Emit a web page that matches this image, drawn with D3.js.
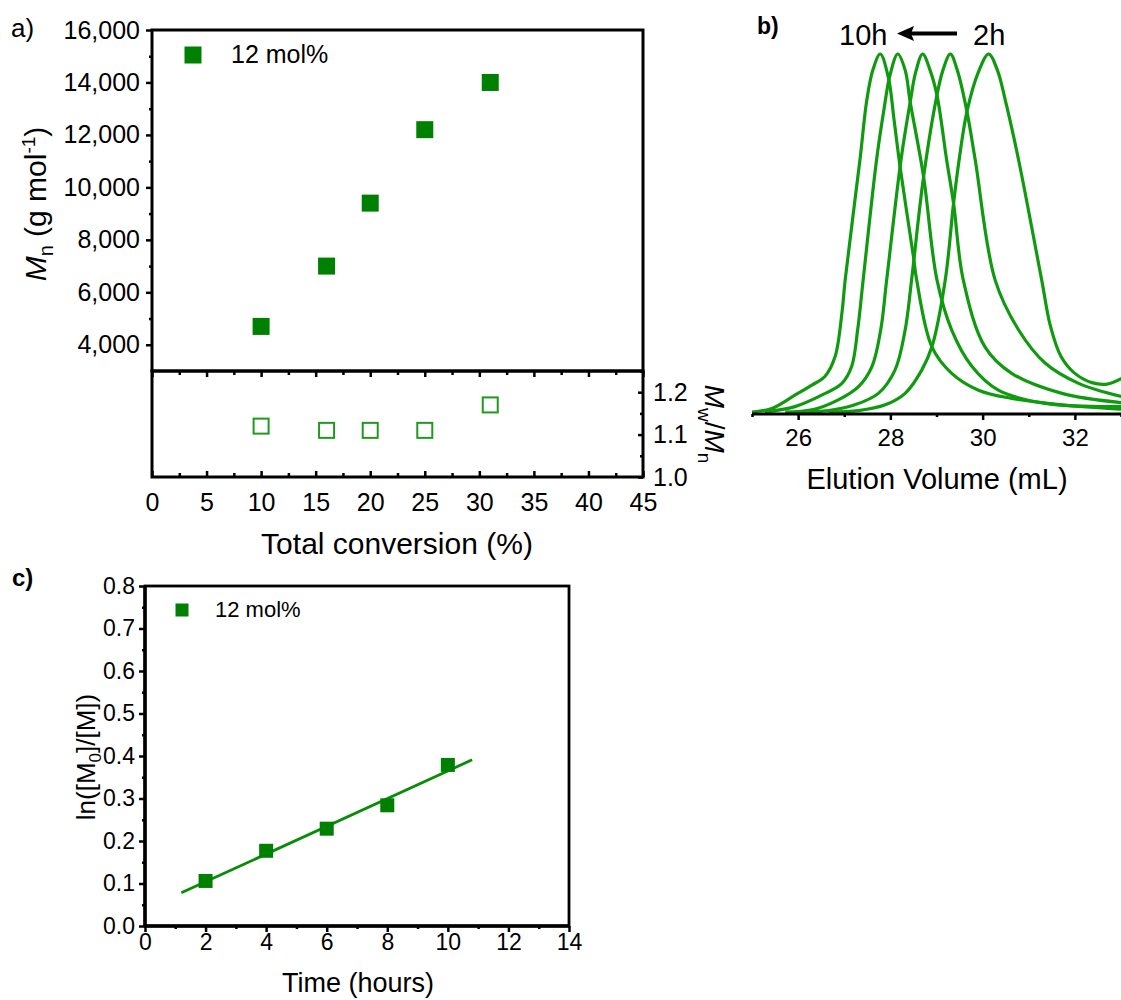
<!DOCTYPE html>
<html><head><meta charset="utf-8">
<script src="https://cdn.jsdelivr.net/npm/d3@7"></script>
<style>
body{margin:0;background:#fff}
svg{display:block}
text{font-family:"Liberation Sans",Arial,sans-serif;fill:#000}
</style>
</head><body>
<svg id="chart" width="1121" height="1000"></svg>
<script>
// ---------- Panel a data ----------
const conversion = [10, 16, 20, 25, 31];
const mnValues = [4700, 7000, 9400, 12200, 14000];
const pdiValues = [1.12, 1.11, 1.11, 1.11, 1.17];
const mnTicks = [4000, 6000, 8000, 10000, 12000, 14000, 16000];
const mnMinor = [5000, 7000, 9000, 11000, 13000, 15000];
const convTicks = [0, 5, 10, 15, 20, 25, 30, 35, 40, 45];
const convMinor = [2.5, 7.5, 12.5, 17.5, 22.5, 27.5, 32.5, 37.5, 42.5];
const pdiTicks = [1.0, 1.1, 1.2];
const pdiMinor = [1.05, 1.15, 1.25];
const legendA = "12 mol%";

// ---------- Panel b data (elution volume mL, normalised intensity) ----------
const gpc10h = [[25.0,0],[25.43,0.01],[25.93,0.047],[26.30,0.075],[26.58,0.099],[26.80,0.154],[26.95,0.277],[27.02,0.369],[27.34,0.704],[27.49,0.872],[27.62,0.955],[27.78,1.0],[27.96,0.932],[28.08,0.816],[28.21,0.685],[28.50,0.434],[28.57,0.369],[28.90,0.182],[29.33,0.108],[29.91,0.061],[30.63,0.038],[31.72,0.02],[33.02,0.008]];
const gpc8h = [[25.28,0],[25.93,0.015],[26.51,0.047],[26.95,0.08],[27.16,0.127],[27.29,0.229],[27.41,0.369],[27.70,0.704],[27.86,0.844],[27.99,0.94],[28.16,1.0],[28.32,0.955],[28.43,0.866],[28.72,0.657],[29.01,0.369],[29.33,0.229],[29.77,0.127],[30.34,0.061],[31.36,0.024],[33.02,0.015]];
const gpc6h = [[25.72,0],[26.30,0.006],[26.87,0.034],[27.31,0.071],[27.60,0.127],[27.79,0.229],[27.92,0.369],[28.23,0.704],[28.43,0.866],[28.55,0.95],[28.70,1.0],[28.86,0.955],[29.01,0.885],[29.22,0.704],[29.37,0.583],[29.58,0.369],[30.05,0.182],[30.63,0.108],[31.72,0.052],[33.02,0.026]];
const gpc4h = [[26.0,0],[26.66,0.004],[27.23,0.02],[27.74,0.052],[28.10,0.117],[28.32,0.229],[28.46,0.369],[28.72,0.657],[29.01,0.885],[29.14,0.955],[29.30,1.0],[29.45,0.955],[29.66,0.839],[29.84,0.704],[30.27,0.369],[30.78,0.229],[31.36,0.136],[32.08,0.08],[33.02,0.043]];
const gpc2h = [[26.66,0],[27.31,0.004],[27.89,0.02],[28.32,0.052],[28.68,0.117],[28.90,0.182],[29.19,0.369],[29.37,0.583],[29.49,0.704],[29.66,0.839],[29.91,0.95],[30.13,1.0],[30.32,0.955],[30.49,0.872],[30.78,0.704],[31.28,0.369],[31.47,0.24],[31.70,0.155],[31.98,0.11],[32.37,0.082],[32.70,0.078],[33.02,0.094]];
const gpcSeries = [gpc10h, gpc8h, gpc6h, gpc4h, gpc2h];
const elutionTicks = [26, 28, 30, 32];
const elutionMinor = [25, 27, 29, 31, 33];
const arrowLabels = ["10h", "2h"];

// ---------- Panel c data ----------
const timeHours = [2, 4, 6, 8, 10];
const lnValues = [0.106, 0.177, 0.229, 0.284, 0.379];
const fitTime = [1.2, 10.8];
const fitLn = [0.078, 0.391];
const timeTicks = [0, 2, 4, 6, 8, 10, 12, 14];
const timeMinor = [1, 3, 5, 7, 9, 11, 13];
const lnTicks = [0, 0.1, 0.2, 0.3, 0.4, 0.5, 0.6, 0.7, 0.8];
const lnMinor = [0.05, 0.15, 0.25, 0.35, 0.45, 0.55, 0.65, 0.75];
const legendC = "12 mol%";

// ---------- styles ----------
const FILL_GREEN = "#008000";
const OPEN_GREEN = "#1f9a1f";
const CURVE_GREEN = "#109a10";
const FIT_GREEN = "#0a8c0a";

const svg = d3.select("#chart");

function styleAxis(g, fontSize, width) {
  g.select(".domain").remove();
  g.selectAll(".tick line").attr("stroke", "#000").attr("stroke-width", width || 2.5);
  g.selectAll(".tick text").attr("fill", "#000").style("font-size", fontSize + "px")
    .style("font-family", '"Liberation Sans",Arial,sans-serif');
}
function frame(x0, y0, x1, y1, w) {
  svg.append("rect").attr("x", x0).attr("y", y0).attr("width", x1 - x0).attr("height", y1 - y0)
    .attr("fill", "none").attr("stroke", "#000").attr("stroke-width", w || 3);
}
function squares(g, xs, ys, size, fill, stroke, sw) {
  g.selectAll(null).data(xs.map((x, i) => [x, ys[i]])).enter().append("rect")
    .attr("x", d => d[0] - size / 2).attr("y", d => d[1] - size / 2)
    .attr("width", size).attr("height", size)
    .attr("fill", fill).attr("stroke", stroke).attr("stroke-width", sw || 0);
}

// =================== Panel a ===================
const xA = d3.scaleLinear([0, 45], [152, 643]);
const yTop = d3.scaleLinear([3000, 16000], [371, 30]);
const yBot = d3.scaleLinear([1.0, 1.25], [477, 371]);

const gAL = svg.append("g").attr("transform", `translate(${xA(0)},0)`);
gAL.call(d3.axisLeft(yTop).tickValues(mnTicks).tickSize(6).tickPadding(6).tickFormat(d3.format(",")));
styleAxis(gAL, 25);
const gALm = svg.append("g").attr("transform", `translate(${xA(0)},0)`);
gALm.call(d3.axisLeft(yTop).tickValues(mnMinor).tickSize(3).tickFormat(""));
styleAxis(gALm, 25);

const gAM = svg.append("g").attr("transform", `translate(0,${yTop(3000)})`);
gAM.call(d3.axisBottom(xA).tickValues(convTicks).tickSize(6).tickFormat(""));
styleAxis(gAM, 24);
const gAMm = svg.append("g").attr("transform", `translate(0,${yTop(3000)})`);
gAMm.call(d3.axisBottom(xA).tickValues(convMinor).tickSize(4).tickFormat(""));
styleAxis(gAMm, 24);

const gAB = svg.append("g").attr("transform", `translate(0,${yBot(1.0)})`);
gAB.call(d3.axisBottom(xA).tickValues(convTicks).tickSizeInner(-6).tickSizeOuter(0).tickPadding(16).tickFormat(d3.format("d")));
styleAxis(gAB, 25);
const gABm = svg.append("g").attr("transform", `translate(0,${yBot(1.0)})`);
gABm.call(d3.axisBottom(xA).tickValues(convMinor).tickSizeInner(-4).tickSizeOuter(0).tickFormat(""));
styleAxis(gABm, 25);

const gAR = svg.append("g").attr("transform", `translate(${xA(45)},0)`);
gAR.call(d3.axisRight(yBot).tickValues(pdiTicks).tickSizeInner(-5).tickSizeOuter(0).tickPadding(10).tickFormat(d3.format(".1f")));
styleAxis(gAR, 25);
const gARm = svg.append("g").attr("transform", `translate(${xA(45)},0)`);
gARm.call(d3.axisRight(yBot).tickValues(pdiMinor).tickSizeInner(-3).tickSizeOuter(0).tickFormat(""));
styleAxis(gARm, 25);

frame(xA(0), yTop(16000), xA(45), yTop(3000));
frame(xA(0), yBot(1.25), xA(45), yBot(1.0));

const gAP = svg.append("g");
squares(gAP, conversion.map(xA), mnValues.map(yTop), 17, FILL_GREEN, "none", 0);
squares(gAP, conversion.map(xA), pdiValues.map(yBot), 15, "none", OPEN_GREEN, 2);

squares(svg.append("g"), [193], [55], 17, FILL_GREEN, "none", 0);
svg.append("text").attr("x", 231).attr("y", 63).style("font-size", "25px").text(legendA);

const tL = svg.append("text").attr("transform", "translate(46,204) rotate(-90)")
  .attr("text-anchor", "middle").style("font-size", "30px");
tL.append("tspan").style("font-style", "italic").text("M");
tL.append("tspan").attr("dy", 7).style("font-size", "20px").text("n");
tL.append("tspan").attr("dy", -7).text(" (g mol");
tL.append("tspan").attr("dy", -11).style("font-size", "19px").text("-1");
tL.append("tspan").attr("dy", 11).text(")");

const tR = svg.append("text").attr("transform", "translate(705,424) rotate(90)")
  .attr("text-anchor", "middle").style("font-size", "28px");
tR.append("tspan").style("font-style", "italic").text("M");
tR.append("tspan").attr("dy", 7).style("font-size", "19px").text("w");
tR.append("tspan").attr("dy", -7).text("/");
tR.append("tspan").style("font-style", "italic").text("M");
tR.append("tspan").attr("dy", 7).style("font-size", "19px").text("n");

svg.append("text").attr("x", 397).attr("y", 554).attr("text-anchor", "middle")
  .style("font-size", "30px").text("Total conversion (%)");
svg.append("text").attr("x", 11).attr("y", 37).style("font-size", "26px").text("a)");

// =================== Panel b ===================
const xB = d3.scaleLinear([25, 33], [752, 1121]);
const yB = d3.scaleLinear([0, 1], [412, 54]);
svg.append("clipPath").attr("id", "clipB").append("rect")
  .attr("x", 750).attr("y", 0).attr("width", 371).attr("height", 414);
const lineB = d3.line().x(d => xB(d[0])).y(d => yB(d[1])).curve(d3.curveCatmullRom.alpha(0.5));
svg.append("g").attr("clip-path", "url(#clipB)").selectAll("path").data(gpcSeries).enter()
  .append("path").attr("d", lineB).attr("fill", "none")
  .attr("stroke", CURVE_GREEN).attr("stroke-width", 3.2).attr("stroke-linejoin", "round");

svg.append("line").attr("x1", xB(25)).attr("x2", xB(33)).attr("y1", 414).attr("y2", 414)
  .attr("stroke", "#000").attr("stroke-width", 3);
const gBB = svg.append("g").attr("transform", "translate(0,414)");
gBB.call(d3.axisBottom(xB).tickValues(elutionTicks).tickSize(6).tickPadding(9).tickFormat(d3.format("d")));
styleAxis(gBB, 24);
const gBBm = svg.append("g").attr("transform", "translate(0,414)");
gBBm.call(d3.axisBottom(xB).tickValues(elutionMinor).tickSize(3).tickFormat(""));
styleAxis(gBBm, 24);

svg.append("text").attr("x", 937).attr("y", 489).attr("text-anchor", "middle")
  .style("font-size", "29px").text("Elution Volume (mL)");
svg.append("text").attr("x", 757).attr("y", 34).style("font-size", "23px").style("font-weight", "bold").text("b)");
svg.append("text").attr("x", 839).attr("y", 45).style("font-size", "29px").text(arrowLabels[0]);
svg.append("text").attr("x", 973).attr("y", 45).style("font-size", "29px").text(arrowLabels[1]);
svg.append("line").attr("x1", 957).attr("x2", 910).attr("y1", 33.5).attr("y2", 33.5)
  .attr("stroke", "#000").attr("stroke-width", 4);
svg.append("path").attr("d", "M897,33.5 L914,26 L911,33.5 L914,41 Z").attr("fill", "#000");

// =================== Panel c ===================
const xC = d3.scaleLinear([0, 14], [145, 569]);
const yC = d3.scaleLinear([0, 0.8], [926, 586]);

const gCL = svg.append("g").attr("transform", `translate(${xC(0)},0)`);
gCL.call(d3.axisLeft(yC).tickValues(lnTicks).tickSize(6).tickPadding(4).tickFormat(d3.format(".1f")));
styleAxis(gCL, 23);
const gCLm = svg.append("g").attr("transform", `translate(${xC(0)},0)`);
gCLm.call(d3.axisLeft(yC).tickValues(lnMinor).tickSize(3).tickFormat(""));
styleAxis(gCLm, 23);
const gCB = svg.append("g").attr("transform", `translate(0,${yC(0)})`);
gCB.call(d3.axisBottom(xC).tickValues(timeTicks).tickSize(6).tickPadding(2).tickFormat(d3.format("d")));
styleAxis(gCB, 23);
const gCBm = svg.append("g").attr("transform", `translate(0,${yC(0)})`);
gCBm.call(d3.axisBottom(xC).tickValues(timeMinor).tickSize(3).tickFormat(""));
styleAxis(gCBm, 23);

frame(xC(0), yC(0.8), xC(14), yC(0), 2.8);
svg.append("line").attr("x1", xC(0)).attr("x2", xC(14)).attr("y1", yC(0)).attr("y2", yC(0))
  .attr("stroke", "#000").attr("stroke-width", 3.5);
svg.append("line").attr("x1", xC(0)).attr("x2", xC(0)).attr("y1", yC(0.8)).attr("y2", yC(0))
  .attr("stroke", "#000").attr("stroke-width", 3.5);

svg.append("line").attr("x1", xC(fitTime[0])).attr("y1", yC(fitLn[0]))
  .attr("x2", xC(fitTime[1])).attr("y2", yC(fitLn[1]))
  .attr("stroke", FIT_GREEN).attr("stroke-width", 2.8);
squares(svg.append("g"), timeHours.map(xC), lnValues.map(yC), 14, FILL_GREEN, "none", 0);

squares(svg.append("g"), [182], [610], 13, FILL_GREEN, "none", 0);
svg.append("text").attr("x", 215).attr("y", 617).style("font-size", "22px").text(legendC);

const tC = svg.append("text").attr("transform", "translate(95,757) rotate(-90)")
  .attr("text-anchor", "middle").style("font-size", "26px");
tC.append("tspan").text("ln([M");
tC.append("tspan").attr("dy", 6).style("font-size", "17px").text("0");
tC.append("tspan").attr("dy", -6).text("]/[M])");

svg.append("text").attr("x", 358).attr("y", 992).attr("text-anchor", "middle")
  .style("font-size", "27px").text("Time (hours)");
svg.append("text").attr("x", 12).attr("y", 586).style("font-size", "24px").style("font-weight", "bold").text("c)");
</script>
</body></html>
